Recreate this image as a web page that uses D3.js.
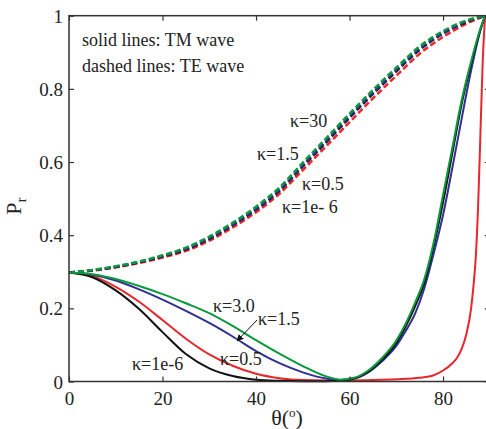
<!DOCTYPE html>
<html lang="en">
<head>
<meta charset="UTF-8">
<title>Reflection vs angle</title>
<script src="https://d3js.org/d3.v7.min.js"></script>
<style>
  body { margin: 0; background: #fff; }
</style>
</head>
<body>
<svg id="chart" width="486" height="429"></svg>
<script>
// ---- data ----
// TE wave (dashed)
const teTheta = [0, 5, 10, 15, 20, 25, 30, 35, 40, 45, 50, 55, 60, 65, 70, 75, 80, 85, 89];
const teK3  = [0.298, 0.305, 0.315, 0.328, 0.345, 0.366, 0.396, 0.434, 0.478, 0.530, 0.598, 0.665, 0.732, 0.797, 0.858, 0.916, 0.958, 0.987, 1.0];
const teK15 = [0.298, 0.304, 0.314, 0.327, 0.343, 0.363, 0.392, 0.429, 0.472, 0.524, 0.591, 0.658, 0.725, 0.790, 0.852, 0.910, 0.953, 0.984, 1.0];
const teK0  = [0.298, 0.304, 0.313, 0.326, 0.342, 0.361, 0.390, 0.427, 0.470, 0.521, 0.588, 0.654, 0.721, 0.786, 0.848, 0.907, 0.951, 0.983, 1.0];
const teK05 = [0.298, 0.303, 0.312, 0.324, 0.339, 0.357, 0.385, 0.421, 0.463, 0.513, 0.578, 0.643, 0.709, 0.774, 0.836, 0.896, 0.942, 0.978, 1.0];

// TM wave (solid)
const tmTheta = [0, 5, 10, 15, 20, 25, 30, 35, 40, 45, 50, 55, 58, 61, 64, 67, 70, 72, 74, 76, 78, 80, 82, 84, 86, 88, 89];
const tmK3  = [0.298, 0.293, 0.280, 0.261, 0.239, 0.214, 0.187, 0.152, 0.113, 0.076, 0.042, 0.014, 0.005, 0.010, 0.030, 0.065, 0.112, 0.158, 0.215, 0.280, 0.380, 0.510, 0.640, 0.770, 0.875, 0.965, 1.0];
const tmK15 = [0.298, 0.292, 0.276, 0.252, 0.224, 0.193, 0.160, 0.123, 0.083, 0.050, 0.025, 0.008, 0.004, 0.008, 0.025, 0.056, 0.097, 0.138, 0.185, 0.255, 0.350, 0.455, 0.585, 0.720, 0.850, 0.960, 1.0];
const tmK0  = [0.298, 0.285, 0.249, 0.198, 0.135, 0.075, 0.036, 0.015, 0.005, 0.002, 0.001, 0.001, 0.002, 0.008, 0.027, 0.060, 0.105, 0.150, 0.205, 0.270, 0.370, 0.490, 0.625, 0.760, 0.868, 0.963, 1.0];
const tmThetaK05 = [0, 5, 10, 15, 20, 25, 30, 35, 40, 45, 50, 55, 60, 65, 70, 75, 78, 80, 82, 83, 84, 85, 86, 86.5, 87, 87.5, 88, 88.5, 89];
const tmK05 = [0.298, 0.288, 0.259, 0.218, 0.168, 0.117, 0.074, 0.043, 0.021, 0.009, 0.004, 0.003, 0.003, 0.004, 0.006, 0.010, 0.017, 0.030, 0.050, 0.065, 0.090, 0.130, 0.200, 0.260, 0.340, 0.480, 0.680, 0.880, 1.0];

const xTicks = [0, 20, 40, 60, 80];
const yTicks = [0, 0.2, 0.4, 0.6, 0.8, 1];

const colors = { k0: "#111111", k05: "#e8262b", k15: "#2e3192", k3: "#0a9a3c" };
const serif = '"Times New Roman", "Liberation Serif", "DejaVu Serif", "Noto Serif", serif';

// ---- scales ----
const svg = d3.select("#chart");
const x = d3.scaleLinear().domain([0, 90]).range([69, 489.8]);
const y = d3.scaleLinear().domain([0, 1]).range([381.5, 15.7]);

const line = d3.line()
    .x(d => x(d[0]))
    .y(d => y(d[1]))
    .curve(d3.curveMonotoneX);

function pairs(ts, vs) { return ts.map((t, i) => [t, vs[i]]); }

// TE dashed: red at back, green on top
const teSeries = [
    { v: teK05, c: colors.k05 },
    { v: teK0,  c: colors.k0 },
    { v: teK15, c: colors.k15 },
    { v: teK3,  c: colors.k3 }
];
svg.append("g").selectAll("path")
    .data(teSeries)
    .join("path")
    .attr("d", d => line(pairs(teTheta, d.v)))
    .attr("fill", "none")
    .attr("stroke", d => d.c)
    .attr("stroke-width", 2.5)
    .attr("stroke-dasharray", "6,3");

const tmSeries = [
    { t: tmThetaK05, v: tmK05, c: colors.k05 },
    { t: tmTheta, v: tmK15, c: colors.k15 },
    { t: tmTheta, v: tmK0,  c: colors.k0 },
    { t: tmTheta, v: tmK3,  c: colors.k3 }
];
svg.append("g").selectAll("path")
    .data(tmSeries)
    .join("path")
    .attr("d", d => line(pairs(d.t, d.v)))
    .attr("fill", "none")
    .attr("stroke", d => d.c)
    .attr("stroke-width", 2);

// ---- frame and axes ----
svg.append("rect")
    .attr("x", x(0)).attr("y", y(1))
    .attr("width", x(90) - x(0)).attr("height", y(0) - y(1))
    .attr("fill", "none").attr("stroke", "#333").attr("stroke-width", 1.5);

const xAxis = svg.append("g")
    .attr("transform", `translate(0,${y(0)})`)
    .call(d3.axisBottom(x).tickValues(xTicks).tickSizeInner(-5).tickSizeOuter(0).tickPadding(10));
const xTop = svg.append("g")
    .attr("transform", `translate(0,${y(1)})`)
    .call(d3.axisTop(x).tickValues(xTicks).tickSizeInner(-5).tickSizeOuter(0).tickFormat(""));
const yAxis = svg.append("g")
    .attr("transform", `translate(${x(0)},0)`)
    .call(d3.axisLeft(y).tickValues(yTicks).tickSizeInner(-5).tickSizeOuter(0).tickPadding(6)
        .tickFormat(d => d === 0 ? "0" : d === 1 ? "1" : d3.format(".1f")(d)));
const yRight = svg.append("g")
    .attr("transform", `translate(${x(90)},0)`)
    .call(d3.axisRight(y).tickValues(yTicks).tickSizeInner(-5).tickSizeOuter(0).tickFormat(""));

[xAxis, xTop, yAxis, yRight].forEach(g => {
    g.select(".domain").remove();
    g.selectAll(".tick line").attr("stroke", "#333").attr("stroke-width", 1.2);
    g.selectAll(".tick text").style("font-size", "19px");
});
yAxis.selectAll(".tick text").attr("dy", "0.35em");

// axis titles
const xt = svg.append("text")
    .attr("x", 287).attr("y", 425)
    .attr("text-anchor", "middle")
    .style("font-size", "22px");
xt.append("tspan").text("θ(");
xt.append("tspan").text("o").style("font-size", "13px").attr("dy", "-8");
xt.append("tspan").text(")").attr("dy", "8");

const yt = svg.append("text")
    .attr("transform", "translate(21,206) rotate(-90)")
    .attr("text-anchor", "middle")
    .style("font-size", "22px");
yt.append("tspan").text("P");
yt.append("tspan").text("r").style("font-size", "15px").attr("dy", "5");

// legend notes
svg.append("text").attr("x", 82).attr("y", 46).style("font-size", "18px").text("solid lines: TM wave");
svg.append("text").attr("x", 82).attr("y", 72).style("font-size", "18px").text("dashed lines: TE wave");

// curve labels
const labels = [
    { t: "κ=30",    x: 290, y: 127 },
    { t: "κ=1.5",   x: 257, y: 160 },
    { t: "κ=0.5",   x: 302, y: 190 },
    { t: "κ=1e- 6", x: 282, y: 213 },
    { t: "κ=3.0",   x: 213, y: 312 },
    { t: "κ=1.5",   x: 258, y: 325 },
    { t: "κ=0.5",   x: 220, y: 365 },
    { t: "κ=1e-6",  x: 132, y: 370 }
];
svg.append("g").selectAll("text")
    .data(labels)
    .join("text")
    .attr("x", d => d.x).attr("y", d => d.y)
    .style("font-size", "18px")
    .text(d => d.t);

// arrow for TM kappa=1.5
svg.append("defs").append("marker")
    .attr("id", "arrow").attr("viewBox", "0 0 10 10")
    .attr("refX", 9).attr("refY", 5)
    .attr("markerWidth", 7).attr("markerHeight", 7)
    .attr("orient", "auto")
    .append("path").attr("d", "M0,0 L10,5 L0,10 z").attr("fill", "#111");
svg.append("line")
    .attr("x1", 257).attr("y1", 320).attr("x2", 237).attr("y2", 341)
    .attr("stroke", "#111").attr("stroke-width", 1)
    .attr("marker-end", "url(#arrow)");

// serif type everywhere
svg.selectAll("text")
    .style("font-family", serif)
    .attr("fill", "#222");
</script>
</body>
</html>
